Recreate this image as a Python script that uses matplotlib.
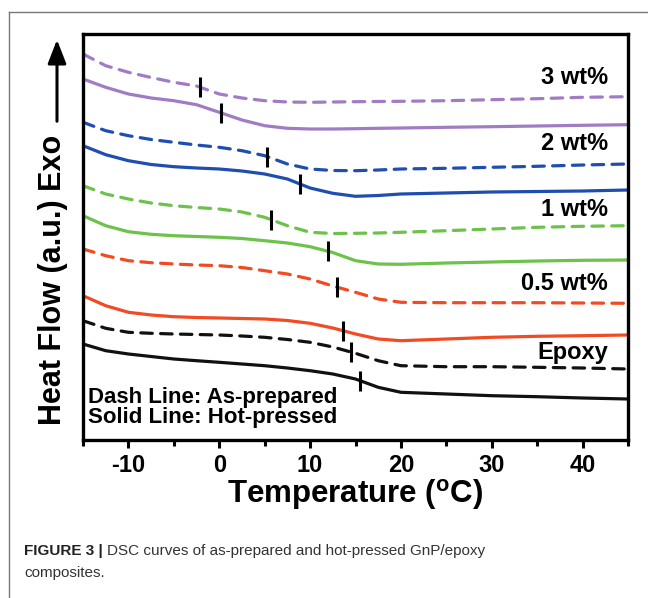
import numpy as np
import matplotlib
matplotlib.use("Agg")
import matplotlib.pyplot as plt
from matplotlib.lines import Line2D
from matplotlib.patches import FancyArrowPatch

plt.rcParams['font.family'] = ['Liberation Sans', 'DejaVu Sans']
plt.rcParams['axes.unicode_minus'] = False

# temperature grid (deg C) of the read-off points
temp = [-15, -12.5, -10, -7.5, -5, -2.5, 0, 2.5, 5, 7.5, 10, 12.5, 15, 17.5, 20, 25, 30, 35, 40, 45]

# heat flow (a.u.), dash = as-prepared, solid = hot-pressed
wt3_dash = [386, 374.3, 367.7, 362.5, 357.7, 354, 346, 342, 339.3, 338, 337.7, 338, 338.3, 338.5, 338.7, 339.3, 340.3, 341.3, 342.7, 343.3]
wt3_solid = [361, 352.7, 346, 342, 339.3, 335.3, 327.7, 320, 314.3, 311.7, 311, 311, 311.3, 311.7, 312, 312.7, 313.3, 314, 314.7, 315.3]
wt2_dash = [317.7, 309.3, 304.3, 300.5, 297.7, 295, 292.7, 289.3, 284.3, 276, 271, 269.5, 269.3, 270, 271, 271.7, 272.7, 273.7, 275, 276]
wt2_solid = [294.3, 285.3, 279.3, 275.5, 273.3, 272, 271, 269, 266, 261, 252, 246.7, 243.7, 244.5, 246, 247, 248, 248.5, 249, 250]
wt1_dash = [254.3, 246, 241, 237, 234.3, 232.5, 231, 228, 222.7, 214.3, 207.7, 206.5, 206.7, 207, 207.7, 209.3, 211, 212.7, 213.7, 214.3]
wt1_solid = [224.3, 214.3, 208.3, 205.7, 204.3, 203.5, 202.7, 201.5, 199.3, 197, 193.3, 187.5, 179.3, 176, 175.7, 177, 178, 179, 179.7, 180]
wt05_dash = [191, 184.3, 179.3, 177.3, 176, 175, 174.3, 172.5, 169.3, 166, 161, 154, 147.7, 141, 137.7, 137.3, 137.3, 137.3, 137, 136.7]
wt05_solid = [144.3, 134.3, 127.7, 125, 123.3, 122.5, 122, 121.5, 121, 119.5, 116.7, 112, 106, 101, 99.3, 101, 102.7, 103.7, 104.3, 105]
epoxy_dash = [119.3, 111.7, 107.7, 106.7, 106, 105.5, 105, 104, 102.7, 100.5, 97.7, 93, 86.7, 79.3, 74.3, 73.3, 73.3, 72.7, 72, 71]
epoxy_solid = [96, 89.3, 86, 83.5, 81, 79.3, 77.7, 76, 74.3, 72, 69.3, 66, 61, 52.7, 47.7, 46, 44.3, 43.3, 42, 41]

# glass transition markers (deg C)
tg_dash = [-2.1, 5.25, 5.7, 12.95, 14.5]
tg_solid = [0.2, 8.85, 11.95, 13.6, 15.5]

labels = ["3 wt%", "2 wt%", "1 wt%", "0.5 wt%", "Epoxy"]
label_y = [363, 296, 230, 157, 88]
colors = ["#a07cc5", "#1f4db0", "#6cc24a", "#f24a22", "#111111"]

dash_curves = [wt3_dash, wt2_dash, wt1_dash, wt05_dash, epoxy_dash]
solid_curves = [wt3_solid, wt2_solid, wt1_solid, wt05_solid, epoxy_solid]

fig = plt.figure(figsize=(6.48, 5.98), dpi=100)
ax = fig.add_axes([83 / 648, 158 / 598, 545 / 648, 406 / 598])

for c, yd, ys, td, ts in zip(colors, dash_curves, solid_curves, tg_dash, tg_solid):
    ax.plot(temp, yd, color=c, lw=2.3, ls=(0, (3.6, 2.6)), dash_capstyle="round",
            dash_joinstyle="round")
    ax.plot(temp, ys, color=c, lw=2.3, solid_joinstyle="round", solid_capstyle="round")
    # Tg ticks sitting on the curves
    ax.plot([td], [np.interp(td, temp, yd)], marker="|", ms=15, mew=2.2, color="black")
    ax.plot([ts], [np.interp(ts, temp, ys)], marker="|", ms=15, mew=2.2, color="black")

for lab, ly in zip(labels, label_y):
    ax.text(42.8, ly, lab, ha="right", va="center", fontsize=17, fontweight="bold")

ax.text(-14.4, 42, "Dash Line: As-prepared", ha="left", va="center",
        fontsize=16, fontweight="bold")
ax.text(-14.4, 22, "Solid Line: Hot-pressed", ha="left", va="center",
        fontsize=16, fontweight="bold")

ax.set_xlim(-15, 45)
ax.set_ylim(0, 406)
ax.set_yticks([])
ax.set_xticks([-10, 0, 10, 20, 30, 40])
ax.set_xticks(np.arange(-15, 46, 5), minor=True)
ax.tick_params(axis="x", which="major", direction="out", length=6, width=2.2,
               labelsize=17, pad=4)
ax.tick_params(axis="x", which="minor", direction="out", length=4, width=2.2)
for lbl in ax.get_xticklabels():
    lbl.set_fontweight("bold")
for sp in ax.spines.values():
    sp.set_linewidth(2.4)

ax.set_xlabel(r"Temperature ($^\mathregular{o}$C)", fontsize=22.5, fontweight="bold", labelpad=0)

# y label with the exo arrow
fig.text(53 / 648, 1 - 280 / 598, "Heat Flow (a.u.) Exo", rotation=90, ha="center",
         va="center", fontsize=22, fontweight="bold")
fig.add_artist(FancyArrowPatch(
    (57 / 648, 1 - 124 / 598), (57 / 648, 1 - 37 / 598), transform=fig.transFigure,
    arrowstyle="-|>,head_length=9,head_width=3.5", lw=2.2, color="black",
    mutation_scale=1.6))

# page frame
fig.add_artist(Line2D([9 / 648, 1], [1 - 12 / 598, 1 - 12 / 598], transform=fig.transFigure,
                      color="#777777", lw=1))
fig.add_artist(Line2D([9 / 648, 9 / 648], [0, 1 - 12 / 598], transform=fig.transFigure,
                      color="#777777", lw=1))

# caption
head = fig.text(24 / 648, 1 - 551 / 598, "FIGURE 3 | ", fontsize=11, fontweight="bold",
                color="#222222", va="center")
ax.annotate("DSC curves of as-prepared and hot-pressed GnP/epoxy", xy=(1, 0.5),
            xycoords=head, xytext=(0, 0), textcoords="offset points", ha="left",
            va="center", fontsize=11, color="#333333", annotation_clip=False)
fig.text(24 / 648, 1 - 573 / 598, "composites.", fontsize=11, color="#333333", va="center")

fig.savefig("out.png", dpi=100)
